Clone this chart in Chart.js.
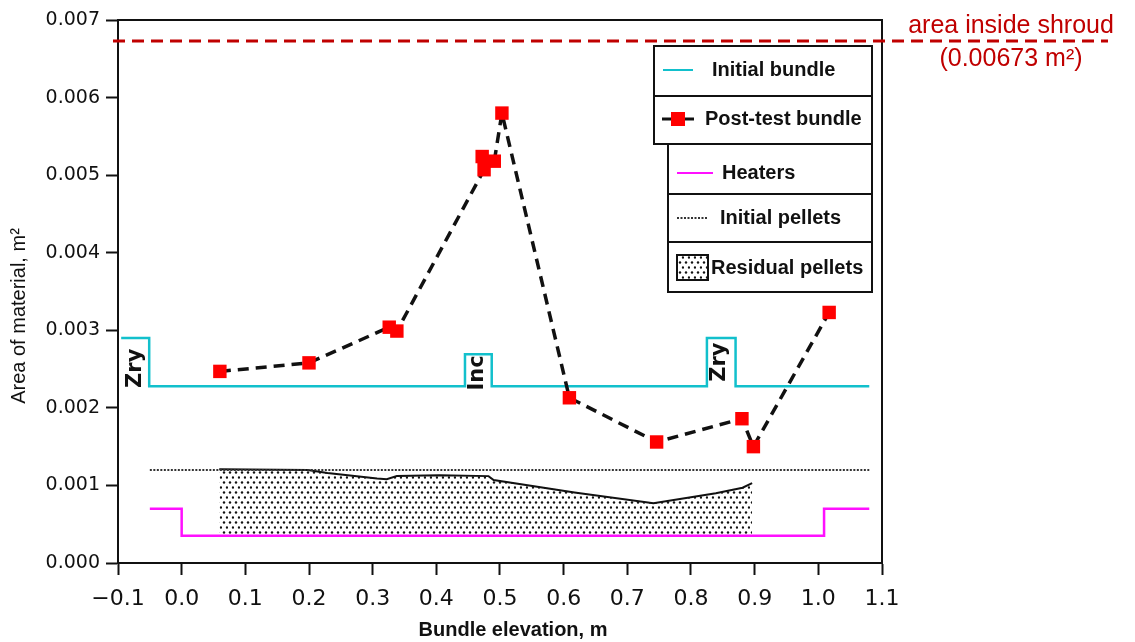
<!DOCTYPE html>
<html>
<head>
<meta charset="utf-8">
<title>Area of material vs bundle elevation</title>
<script src="https://cdn.jsdelivr.net/npm/chart.js@4.4.1/dist/chart.umd.min.js"></script>
<style>
  body { margin: 0; background: #fff; }
  #wrap { width: 1135px; height: 642px; }
</style>
</head>
<body>
<div id="wrap"><canvas id="areaChart" width="1135" height="642"></canvas></div>
<script>
// elevation in m, area in m²
const bundleX = [-0.095, -0.051, 0.445, 0.487, 0.825, 0.870, 1.08];
const bundleY = [0.00290, 0.00228, 0.00269, 0.00228, 0.00290, 0.00228, 0.00228];

const postX = [0.060, 0.200, 0.326, 0.338, 0.475, 0.472, 0.491, 0.503, 0.609, 0.746, 0.880, 0.898, 1.017];
const postY = [0.00247, 0.00258, 0.00304, 0.00299, 0.00507, 0.00524, 0.00518, 0.00580, 0.00213, 0.00156, 0.00186, 0.00150, 0.00323];

const heaterX = [-0.05, 0.0, 1.009, 1.08];
const heaterY = [0.00070, 0.00035, 0.00070, 0.00070];

const pelletX = [-0.05, 1.08];
const pelletY = [0.00120, 0.00120];

const residualX = [0.059, 0.198, 0.229, 0.307, 0.322, 0.338, 0.405, 0.482, 0.490, 0.617, 0.741, 0.839, 0.881, 0.896];
const residualY = [0.00121, 0.00120, 0.00116, 0.00109, 0.00108, 0.00112, 0.00113, 0.00112, 0.00107, 0.00091, 0.00077, 0.00090, 0.00097, 0.00103];
const residualBase = 0.00035;

const shroudArea = 0.00673;

// material names written along the bundle outline
const regionLabels = ['Zry', 'Inc', 'Zry'];
const regionLabelX = [-0.073, 0.465, 0.845];
const regionLabelY = [0.00251, 0.00245, 0.00259];

const xTicks = [-0.1, 0.0, 0.1, 0.2, 0.3, 0.4, 0.5, 0.6, 0.7, 0.8, 0.9, 1.0, 1.1];
const xTickLabels = ['\u22120.1', '0.0', '0.1', '0.2', '0.3', '0.4', '0.5', '0.6', '0.7', '0.8', '0.9', '1.0', '1.1'];
const yTicks = [0, 0.001, 0.002, 0.003, 0.004, 0.005, 0.006, 0.007];
const yTickLabels = ['0.000', '0.001', '0.002', '0.003', '0.004', '0.005', '0.006', '0.007'];

const CYAN = '#12c0cc';
const MAGENTA = '#ff10ff';
const RED = '#ff0000';
const DARKRED = '#c00000';
const INK = '#111';

const xy = (xs, ys) => xs.map((x, i) => ({ x: x, y: ys[i] }));

// dotted fill for the pellet remains
function makeDots() {
    const c = document.createElement('canvas');
    c.width = 6;
    c.height = 10;
    const g = c.getContext('2d');
    g.fillStyle = '#111';
    g.beginPath(); g.arc(2, 2.5, 1.2, 0, Math.PI * 2); g.fill();
    g.beginPath(); g.arc(5, 7.5, 1.2, 0, Math.PI * 2); g.fill();
    return g.createPattern(c, 'repeat');
}
const dots = makeDots();

const extras = {
    id: 'extras',
    afterDraw(chart) {
        const { ctx, chartArea: a, scales: { x, y } } = chart;
        ctx.save();

        // top and right sides of the frame
        ctx.strokeStyle = INK;
        ctx.lineWidth = 2;
        ctx.beginPath();
        ctx.moveTo(a.left, a.top);
        ctx.lineTo(a.right, a.top);
        ctx.lineTo(a.right, a.bottom);
        ctx.stroke();

        // Zry / Inc
        ctx.fillStyle = INK;
        ctx.font = 'bold 21px "DejaVu Sans"';
        ctx.textAlign = 'center';
        ctx.textBaseline = 'middle';
        regionLabels.forEach((t, i) => {
            ctx.save();
            ctx.translate(x.getPixelForValue(regionLabelX[i]), y.getPixelForValue(regionLabelY[i]));
            ctx.rotate(-Math.PI / 2);
            ctx.fillText(t, 0, 0);
            ctx.restore();
        });

        // shroud area line and its note
        const ys = y.getPixelForValue(shroudArea);
        ctx.strokeStyle = DARKRED;
        ctx.lineWidth = 3;
        ctx.setLineDash([12, 7]);
        ctx.beginPath();
        ctx.moveTo(a.left - 5, ys);
        ctx.lineTo(1108, ys);
        ctx.stroke();
        ctx.setLineDash([]);
        ctx.fillStyle = DARKRED;
        ctx.font = '25px "Liberation Sans"';
        ctx.fillText('area inside shroud', 1011, ys - 15);
        ctx.fillText('(' + shroudArea + ' m\u00b2)', 1011, ys + 18);

        // axis titles
        ctx.fillStyle = INK;
        ctx.font = '20px "Liberation Sans"';
        ctx.save();
        ctx.translate(19, 316);
        ctx.rotate(-Math.PI / 2);
        ctx.fillText('Area of material, m\u00b2', 0, 0);
        ctx.restore();
        ctx.font = 'bold 20px "Liberation Sans"';
        ctx.fillText('Bundle elevation, m', 513, 630);

        drawLegend(ctx);
        ctx.restore();
    }
};

function drawLegend(ctx) {
    ctx.lineWidth = 2;
    ctx.strokeStyle = INK;
    ctx.fillStyle = '#fff';
    ctx.fillRect(654, 46, 218, 98);
    ctx.fillRect(668, 144, 204, 148);
    ctx.strokeRect(654, 46, 218, 98);
    ctx.strokeRect(668, 144, 204, 148);
    ctx.beginPath();
    ctx.moveTo(654, 96); ctx.lineTo(872, 96);
    ctx.moveTo(668, 194); ctx.lineTo(872, 194);
    ctx.moveTo(668, 242); ctx.lineTo(872, 242);
    ctx.stroke();

    // samples
    ctx.lineWidth = 2;
    ctx.strokeStyle = CYAN;
    ctx.beginPath(); ctx.moveTo(663, 70); ctx.lineTo(693, 70); ctx.stroke();

    ctx.lineWidth = 3;
    ctx.strokeStyle = INK;
    ctx.beginPath(); ctx.moveTo(662, 119); ctx.lineTo(694, 119); ctx.stroke();
    ctx.fillStyle = RED;
    ctx.fillRect(671, 112, 14, 14);

    ctx.lineWidth = 2;
    ctx.strokeStyle = MAGENTA;
    ctx.beginPath(); ctx.moveTo(677, 173); ctx.lineTo(713, 173); ctx.stroke();

    ctx.strokeStyle = '#333';
    ctx.setLineDash([2, 1.5]);
    ctx.beginPath(); ctx.moveTo(677, 218); ctx.lineTo(707, 218); ctx.stroke();
    ctx.setLineDash([]);

    ctx.fillStyle = dots;
    ctx.fillRect(677, 255, 31, 25);
    ctx.strokeStyle = INK;
    ctx.strokeRect(677, 255, 31, 25);

    ctx.fillStyle = INK;
    ctx.font = 'bold 20px "Liberation Sans"';
    ctx.textAlign = 'left';
    ctx.textBaseline = 'middle';
    ctx.fillText('Initial bundle', 712, 70);
    ctx.fillText('Post-test bundle', 705, 119);
    ctx.fillText('Heaters', 722, 173);
    ctx.fillText('Initial pellets', 720, 218);
    ctx.fillText('Residual pellets', 711, 268);
}

const plain = { pointRadius: 0, pointHoverRadius: 0, tension: 0 };

const chart = new Chart(document.getElementById('areaChart'), {
    type: 'line',
    data: {
        datasets: [
            {
                label: 'Post-test bundle',
                data: xy(postX, postY),
                borderColor: INK,
                borderWidth: 3.5,
                borderDash: [11, 7],
                pointStyle: 'rect',
                pointRadius: 9.5,
                pointBorderWidth: 0,
                pointBackgroundColor: RED,
                order: 0
            },
            Object.assign({}, plain, {
                label: 'Initial bundle',
                data: xy(bundleX, bundleY),
                borderColor: CYAN,
                borderWidth: 2.5,
                stepped: 'before',
                order: 1
            }),
            Object.assign({}, plain, {
                label: 'Heaters',
                data: xy(heaterX, heaterY),
                borderColor: MAGENTA,
                borderWidth: 2.5,
                stepped: 'before',
                order: 2
            }),
            Object.assign({}, plain, {
                label: 'Initial pellets',
                data: xy(pelletX, pelletY),
                borderColor: '#333',
                borderWidth: 2,
                borderDash: [2, 1.5],
                order: 3
            }),
            Object.assign({}, plain, {
                label: 'Residual pellets',
                data: xy(residualX, residualY),
                borderColor: INK,
                borderWidth: 2,
                backgroundColor: dots,
                fill: { value: residualBase },
                order: 4
            })
        ]
    },
    options: {
        responsive: false,
        animation: false,
        devicePixelRatio: 1,
        layout: { padding: { top: 20, right: 253, left: 0, bottom: 0 } },
        plugins: {
            legend: { display: false },
            tooltip: { enabled: false }
        },
        scales: {
            x: {
                type: 'linear',
                min: -0.1,
                max: 1.1,
                afterBuildTicks: s => { s.ticks = xTicks.map(v => ({ value: v })); },
                afterFit: s => { s.height = 79; },
                ticks: {
                    callback: (v, i) => xTickLabels[i],
                    font: { family: 'DejaVu Sans', size: 22 },
                    color: INK,
                    padding: 11,
                    maxRotation: 0,
                    autoSkip: false
                },
                grid: { drawOnChartArea: false, tickLength: 12, tickWidth: 2, tickColor: INK },
                border: { display: true, color: INK, width: 2 }
            },
            y: {
                type: 'linear',
                min: 0,
                max: 0.007,
                afterBuildTicks: s => { s.ticks = yTicks.map(v => ({ value: v })); },
                afterFit: s => { s.width = 118; },
                ticks: {
                    callback: (v, i) => yTickLabels[i],
                    font: { family: 'DejaVu Sans', size: 19 },
                    color: INK,
                    padding: 6
                },
                grid: { drawOnChartArea: false, tickLength: 12, tickWidth: 2, tickColor: INK },
                border: { display: true, color: INK, width: 2 }
            }
        }
    },
    plugins: [extras]
});
</script>
</body>
</html>
